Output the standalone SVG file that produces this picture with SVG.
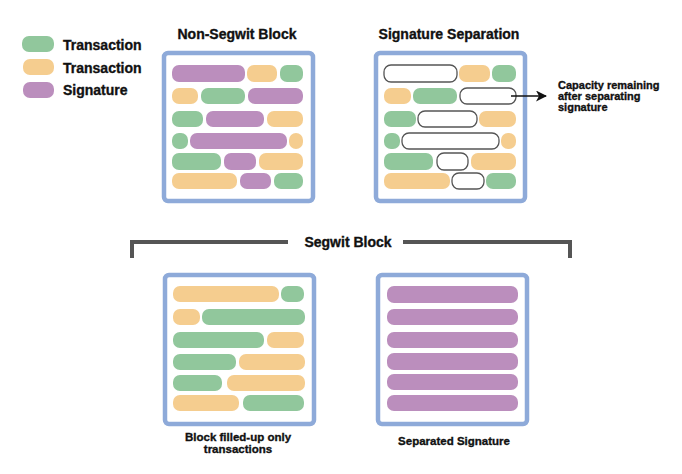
<svg xmlns="http://www.w3.org/2000/svg" width="682" height="474" viewBox="0 0 682 474">
<style>
text{font-family:"Liberation Sans",Arial,sans-serif;font-weight:bold;fill:#111;stroke:#111;stroke-width:0.35}
.g{fill:#91c79c}
.o{fill:#f5cd8f}
.p{fill:#bb8ebd}
.w{fill:#fff;stroke:#555;stroke-width:1.3}
.frame{fill:#fff;stroke:#8eaad9;stroke-width:4.5}
.t{font-size:14px;text-anchor:middle}
.lg{font-size:14px}
.lb{font-size:11.5px;text-anchor:middle}
.cap{font-size:11px}
</style>
<defs>
<marker id="ah" markerWidth="11" markerHeight="11" refX="10" refY="5.5" orient="auto" markerUnits="userSpaceOnUse">
<path d="M0,0 L11,5.5 L0,11 L3,5.5 Z" fill="#111"/>
</marker>
</defs>
<rect width="682" height="474" fill="#fff"/>

<g id="legend">
<rect class="g" x="22" y="36" width="32" height="16" rx="7"/>
<rect class="o" x="23" y="59" width="31" height="16" rx="7"/>
<rect class="p" x="23" y="82" width="31" height="16" rx="7"/>
<text class="lg" x="63" y="50">Transaction</text>
<text class="lg" x="63" y="73">Transaction</text>
<text class="lg" x="63" y="95">Signature</text>
</g>

<g id="non-segwit-block">
<text class="t" x="237" y="39">Non-Segwit Block</text>
<rect class="frame" x="164" y="53" width="149" height="148" rx="4"/>
<rect class="p" x="172" y="65" width="73" height="17" rx="7"/>
<rect class="o" x="247" y="65" width="30" height="17" rx="7"/>
<rect class="g" x="280" y="65" width="23" height="17" rx="7"/>
<rect class="o" x="172" y="88" width="26" height="16" rx="7"/>
<rect class="g" x="201" y="88" width="44" height="16" rx="7"/>
<rect class="p" x="248" y="88" width="55" height="16" rx="7"/>
<rect class="g" x="172" y="111" width="31" height="16" rx="7"/>
<rect class="p" x="206" y="111" width="58" height="16" rx="7"/>
<rect class="o" x="267" y="111" width="36" height="16" rx="7"/>
<rect class="g" x="172" y="133" width="16" height="16" rx="7"/>
<rect class="p" x="190" y="133" width="97" height="16" rx="7"/>
<rect class="o" x="289" y="133" width="14" height="16" rx="7"/>
<rect class="g" x="172" y="153" width="49" height="17" rx="7"/>
<rect class="p" x="224" y="153" width="32" height="17" rx="7"/>
<rect class="o" x="259" y="153" width="44" height="17" rx="7"/>
<rect class="o" x="172" y="173" width="65" height="16" rx="7"/>
<rect class="p" x="240" y="173" width="31" height="16" rx="7"/>
<rect class="g" x="274" y="173" width="29" height="16" rx="7"/>
</g>

<g id="signature-separation">
<text class="t" x="449" y="39">Signature Separation</text>
<rect class="frame" x="376" y="53" width="149" height="148" rx="4"/>
<rect class="w" x="384" y="65" width="73" height="17" rx="7"/>
<rect class="o" x="459" y="65" width="31" height="17" rx="7"/>
<rect class="g" x="492" y="65" width="24" height="17" rx="7"/>
<rect class="o" x="384" y="88" width="27" height="16" rx="7"/>
<rect class="g" x="413" y="88" width="44" height="16" rx="7"/>
<rect class="w" x="460" y="88" width="56" height="16" rx="7"/>
<rect class="g" x="384" y="111" width="32" height="16" rx="7"/>
<rect class="w" x="418" y="111" width="59" height="16" rx="7"/>
<rect class="o" x="479" y="111" width="37" height="16" rx="7"/>
<rect class="g" x="384" y="133" width="16" height="16" rx="7"/>
<rect class="w" x="402" y="133" width="97" height="16" rx="7"/>
<rect class="o" x="501" y="133" width="15" height="16" rx="7"/>
<rect class="g" x="384" y="153" width="49" height="17" rx="7"/>
<rect class="w" x="437" y="153" width="31" height="17" rx="7"/>
<rect class="o" x="471" y="153" width="45" height="17" rx="7"/>
<rect class="o" x="384" y="173" width="66" height="16" rx="7"/>
<rect class="w" x="452" y="173" width="32" height="16" rx="7"/>
<rect class="g" x="486" y="173" width="30" height="16" rx="7"/>
</g>

<g id="capacity-label">
<text class="cap" x="558" y="89">Capacity remaining</text>
<text class="cap" x="558" y="100">after separating</text>
<text class="cap" x="558" y="111">signature</text>
</g>

<g id="segwit-bracket">
<path d="M132,258 V242 H288 M403,242 H570 V258" fill="none" stroke="#555" stroke-width="4"/>
<text class="t" x="348" y="247">Segwit Block</text>
</g>

<g id="segwit-transactions">
<rect class="frame" x="165" y="275" width="149" height="149" rx="4"/>
<rect class="o" x="173" y="286" width="106" height="16" rx="7"/>
<rect class="g" x="281" y="286" width="23" height="16" rx="7"/>
<rect class="o" x="173" y="309" width="27" height="16" rx="7"/>
<rect class="g" x="202" y="309" width="103" height="16" rx="7"/>
<rect class="g" x="173" y="332" width="91" height="16" rx="7"/>
<rect class="o" x="267" y="332" width="37" height="16" rx="7"/>
<rect class="g" x="173" y="354" width="63" height="16" rx="7"/>
<rect class="o" x="239" y="354" width="66" height="16" rx="7"/>
<rect class="g" x="173" y="375" width="49" height="16" rx="7"/>
<rect class="o" x="227" y="375" width="78" height="16" rx="7"/>
<rect class="o" x="173" y="395" width="66" height="16" rx="7"/>
<rect class="g" x="243" y="395" width="61" height="16" rx="7"/>
<text class="lb" x="238" y="441">Block filled-up only</text>
<text class="lb" x="238" y="453">transactions</text>
</g>

<g id="separated-signature">
<rect class="frame" x="378" y="275" width="149" height="149" rx="4"/>
<rect class="p" x="387" y="286" width="131" height="17" rx="7"/>
<rect class="p" x="387" y="309" width="131" height="16" rx="7"/>
<rect class="p" x="387" y="332" width="131" height="16" rx="7"/>
<rect class="p" x="387" y="353" width="131" height="17" rx="7"/>
<rect class="p" x="387" y="374" width="131" height="16" rx="7"/>
<rect class="p" x="387" y="395" width="131" height="16" rx="7"/>
<text class="lb" x="454" y="445">Separated Signature</text>
</g>

<g id="connectors">
<line x1="511" y1="96" x2="546" y2="96" stroke="#111" stroke-width="1.6" marker-end="url(#ah)"/>
</g>
</svg>
